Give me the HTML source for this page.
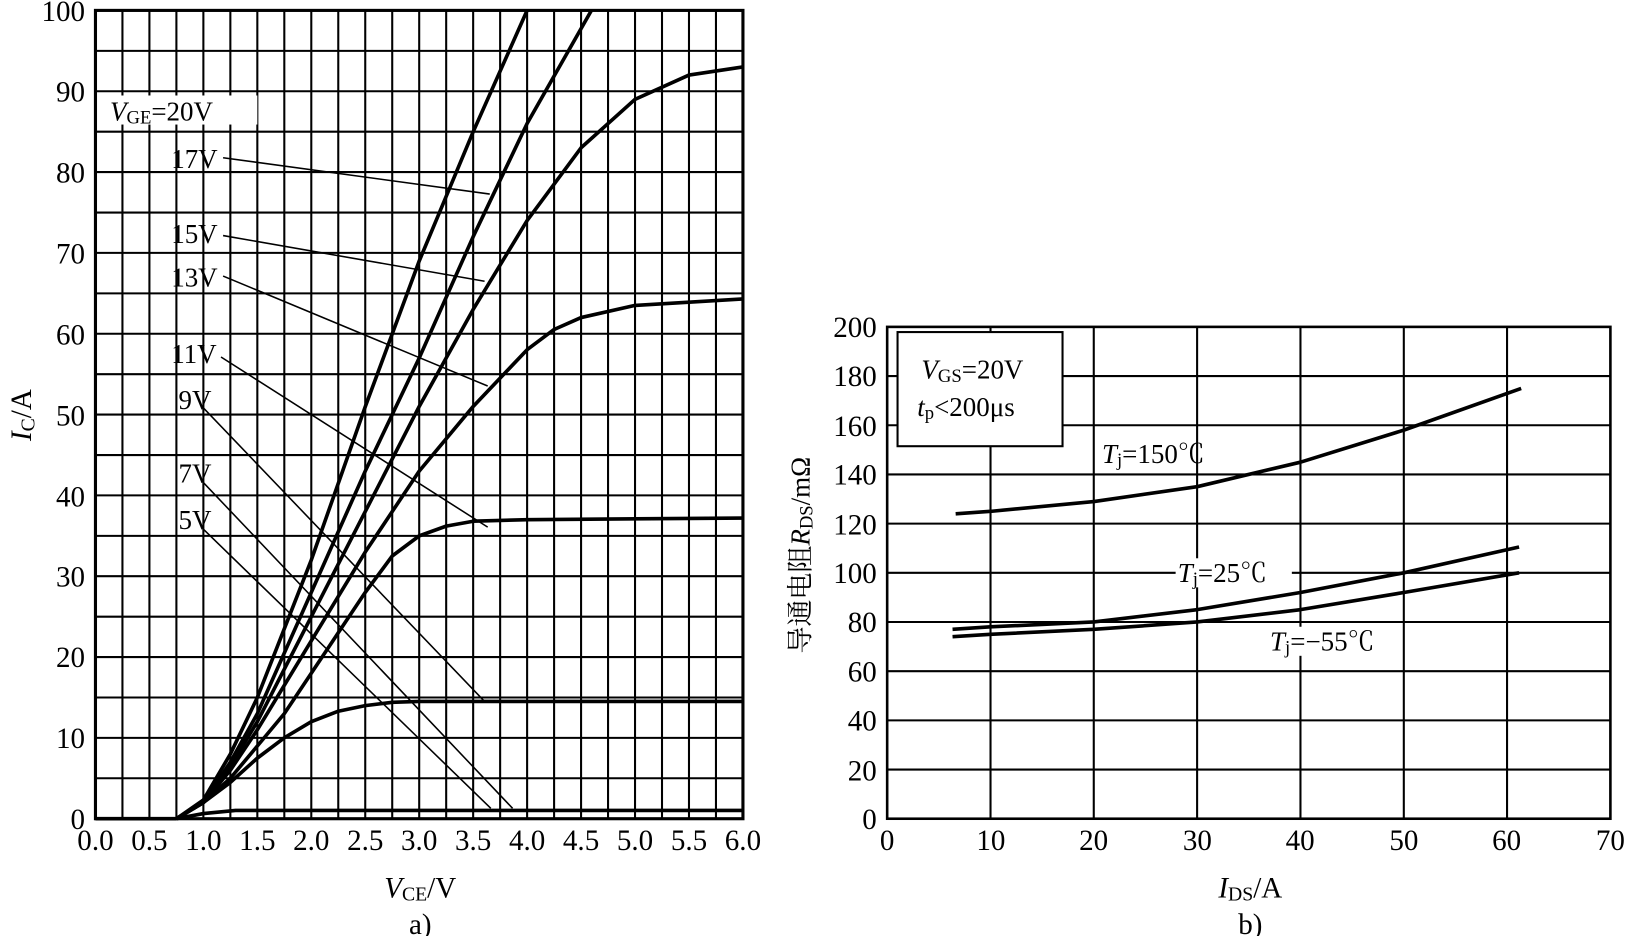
<!DOCTYPE html>
<html><head><meta charset="utf-8"><style>
body{margin:0;background:#fff}
text{font-family:"Liberation Serif","Noto Serif CJK SC",serif;fill:#000}
</style></head><body>
<svg width="1627" height="936" viewBox="0 0 1568 902" xmlns="http://www.w3.org/2000/svg">
<rect width="1568" height="902" fill="#fff"/>
<g stroke="#000" stroke-width="2">
<path d="M118 10V789M144 10V789M170 10V789M196 10V789M222 10V789M248 10V789M274 10V789M300 10V789M326 10V789M352 10V789M378 10V789M404 10V789M430 10V789M456 10V789M482 10V789M508 10V789M534 10V789M560 10V789M586 10V789M612 10V789M638 10V789M664 10V789M690 10V789"/>
<path d="M92 750H716M92 711.1H716M92 672.2H716M92 633.2H716M92 594.3H716M92 555.3H716M92 516.4H716M92 477.4H716M92 438.5H716M92 399.5H716M92 360.6H716M92 321.6H716M92 282.7H716M92 243.7H716M92 204.8H716M92 165.8H716M92 126.9H716M92 87.9H716M92 49H716"/>
<rect x="92" y="10" width="624" height="779" fill="none" stroke-width="3"/>
</g>
<g font-size="28" text-anchor="end">
<text x="82" y="799">0</text><text x="82" y="721">10</text><text x="82" y="643">20</text><text x="82" y="565">30</text><text x="82" y="488">40</text><text x="82" y="410">50</text><text x="82" y="332">60</text><text x="82" y="254">70</text><text x="82" y="176">80</text><text x="82" y="98">90</text><text x="82" y="20">100</text>
</g>
<g font-size="28" text-anchor="middle">
<text x="92" y="819">0.0</text><text x="144" y="819">0.5</text><text x="196" y="819">1.0</text><text x="248" y="819">1.5</text><text x="300" y="819">2.0</text><text x="352" y="819">2.5</text><text x="404" y="819">3.0</text><text x="456" y="819">3.5</text><text x="508" y="819">4.0</text><text x="560" y="819">4.5</text><text x="612" y="819">5.0</text><text x="664" y="819">5.5</text><text x="716" y="819">6.0</text>
<text x="405" y="865"><tspan font-style="italic">V</tspan><tspan font-size="19" dy="3">CE</tspan><tspan dy="-3">/V</tspan></text>
<text x="405" y="900">a)</text>
</g>
<text font-size="28" transform="translate(30 400) rotate(-90)" text-anchor="middle"><tspan font-style="italic">I</tspan><tspan font-size="19" dy="3">C</tspan><tspan dy="-3">/A</tspan></text>
<g fill="none" stroke="#000" stroke-width="3.5" stroke-linejoin="round">
<path d="M92 789H170"/>
<path d="M170 789L196 784L227 781H716"/>
<path d="M170 789L196 773.4L222 754L248 730.6L274 711L300 695.5L326 685.4L352 680L378 676.8L404 676H716"/>
<path d="M170 789L196 773.4L222 750L248 718.9L274 687.7L300 648.8L326 609.8L352 570.9L378 535.8L404 516.4L430 507L456 502.3L508 500.8L716 499.2"/>
<path d="M170 789L196 773.4L222 742.3L248 703.3L300 617.6L352 532L404 454L456 391.7L508 337L534 317.5L560 306L612 294.3L716 288.1"/>
<path d="M170 789L196 773.4L222 738.4L248 695.5L300 594.3L352 493L404 391.7L456 298.2L508 212.5L560 142.4L612 95.7L664 72.3L716 64.5"/>
<path d="M170 789L196 773.4L222 734.5L248 687.7L300 570.9L352 454L404 345L456 228.1L508 119L570 10"/>
<path d="M170 789L196 771L222 726.7L248 672.2L300 539.7L352 392L404 251.5L456 127L508 10"/>
</g>
<g stroke="#000" stroke-width="1.5">
<path d="M215 152L472 187M215 227L467 271M215 266L470 372M213 344L470 508M195 392L467 676M196 465L494 779M196 510L473 779"/>
</g>
<g font-size="26">
<rect x="104" y="92" width="144" height="28" fill="#fff"/>
<text x="106" y="116"><tspan font-style="italic">V</tspan><tspan font-size="18" dy="3">GE</tspan><tspan dy="-3">=20V</tspan></text>
<text x="165" y="162">17V</text><text x="165" y="234">15V</text><text x="165" y="276">13V</text><text x="165" y="350">11V</text><text x="172" y="394">9V</text><text x="172" y="465">7V</text><text x="172" y="510">5V</text>
</g>
<g stroke="#000" stroke-width="2">
<path d="M954.6 315V789M1054.1 315V789M1153.7 315V789M1253.3 315V789M1352.9 315V789M1452.4 315V789"/>
<path d="M855 741.6H1552M855 694.2H1552M855 646.8H1552M855 599.4H1552M855 552H1552M855 504.6H1552M855 457.2H1552M855 409.8H1552M855 362.4H1552"/>
<rect x="855" y="315" width="697" height="474" fill="none" stroke-width="2.5"/>
<rect x="865" y="320" width="159" height="110" fill="#fff"/>
</g>
<g font-size="28" text-anchor="end">
<text x="845" y="799">0</text><text x="845" y="752">20</text><text x="845" y="704">40</text><text x="845" y="657">60</text><text x="845" y="609">80</text><text x="845" y="562">100</text><text x="845" y="515">120</text><text x="845" y="467">140</text><text x="845" y="420">160</text><text x="845" y="372">180</text><text x="845" y="325">200</text>
</g>
<g font-size="28" text-anchor="middle">
<text x="855" y="819">0</text><text x="955" y="819">10</text><text x="1054" y="819">20</text><text x="1154" y="819">30</text><text x="1253" y="819">40</text><text x="1353" y="819">50</text><text x="1452" y="819">60</text><text x="1552" y="819">70</text>
<text x="1205" y="865"><tspan font-style="italic">I</tspan><tspan font-size="19" dy="3">DS</tspan><tspan dy="-3">/A</tspan></text>
<text x="1205" y="900">b)</text>
</g>
<text font-size="26" transform="translate(780 535) rotate(-90)" text-anchor="middle">导通电阻<tspan font-style="italic">R</tspan><tspan font-size="18" dy="3">DS</tspan><tspan dy="-3">/mΩ</tspan></text>
<g font-size="26">
<text x="888" y="365"><tspan font-style="italic">V</tspan><tspan font-size="18" dy="3">GS</tspan><tspan dy="-3">=20V</tspan></text>
<text x="884" y="401"><tspan font-style="italic">t</tspan><tspan font-size="18" dy="3">p</tspan><tspan dy="-3">&lt;200μs</tspan></text>
<text x="1062" y="446"><tspan font-style="italic">T</tspan><tspan font-size="18" dy="3">j</tspan><tspan dy="-3">=150℃</tspan></text>
<rect x="1133" y="538" width="112" height="28" fill="#fff"/>
<text x="1135" y="561"><tspan font-style="italic">T</tspan><tspan font-size="18" dy="3">j</tspan><tspan dy="-3">=25℃</tspan></text>
<rect x="1222" y="604" width="122" height="28" fill="#fff"/>
<text x="1224" y="627"><tspan font-style="italic">T</tspan><tspan font-size="18" dy="3">j</tspan><tspan dy="-3">=−55℃</tspan></text>
</g>
<g fill="none" stroke="#000" stroke-width="3.5" stroke-linejoin="round">
<path d="M921 495.1L954.6 492.8L1054.1 483.3L1153.7 469L1253.3 445.4L1352.9 414.5L1466 374.3"/>
<path d="M918 606.5L954.6 604.1L1054.1 599.4L1153.7 587.5L1253.3 571L1352.9 552L1464 527.1"/>
<path d="M918 613.6L954.6 611.3L1054.1 606.5L1153.7 599.4L1253.3 587.5L1352.9 571L1464 552"/>
</g>
</svg>
</body></html>
